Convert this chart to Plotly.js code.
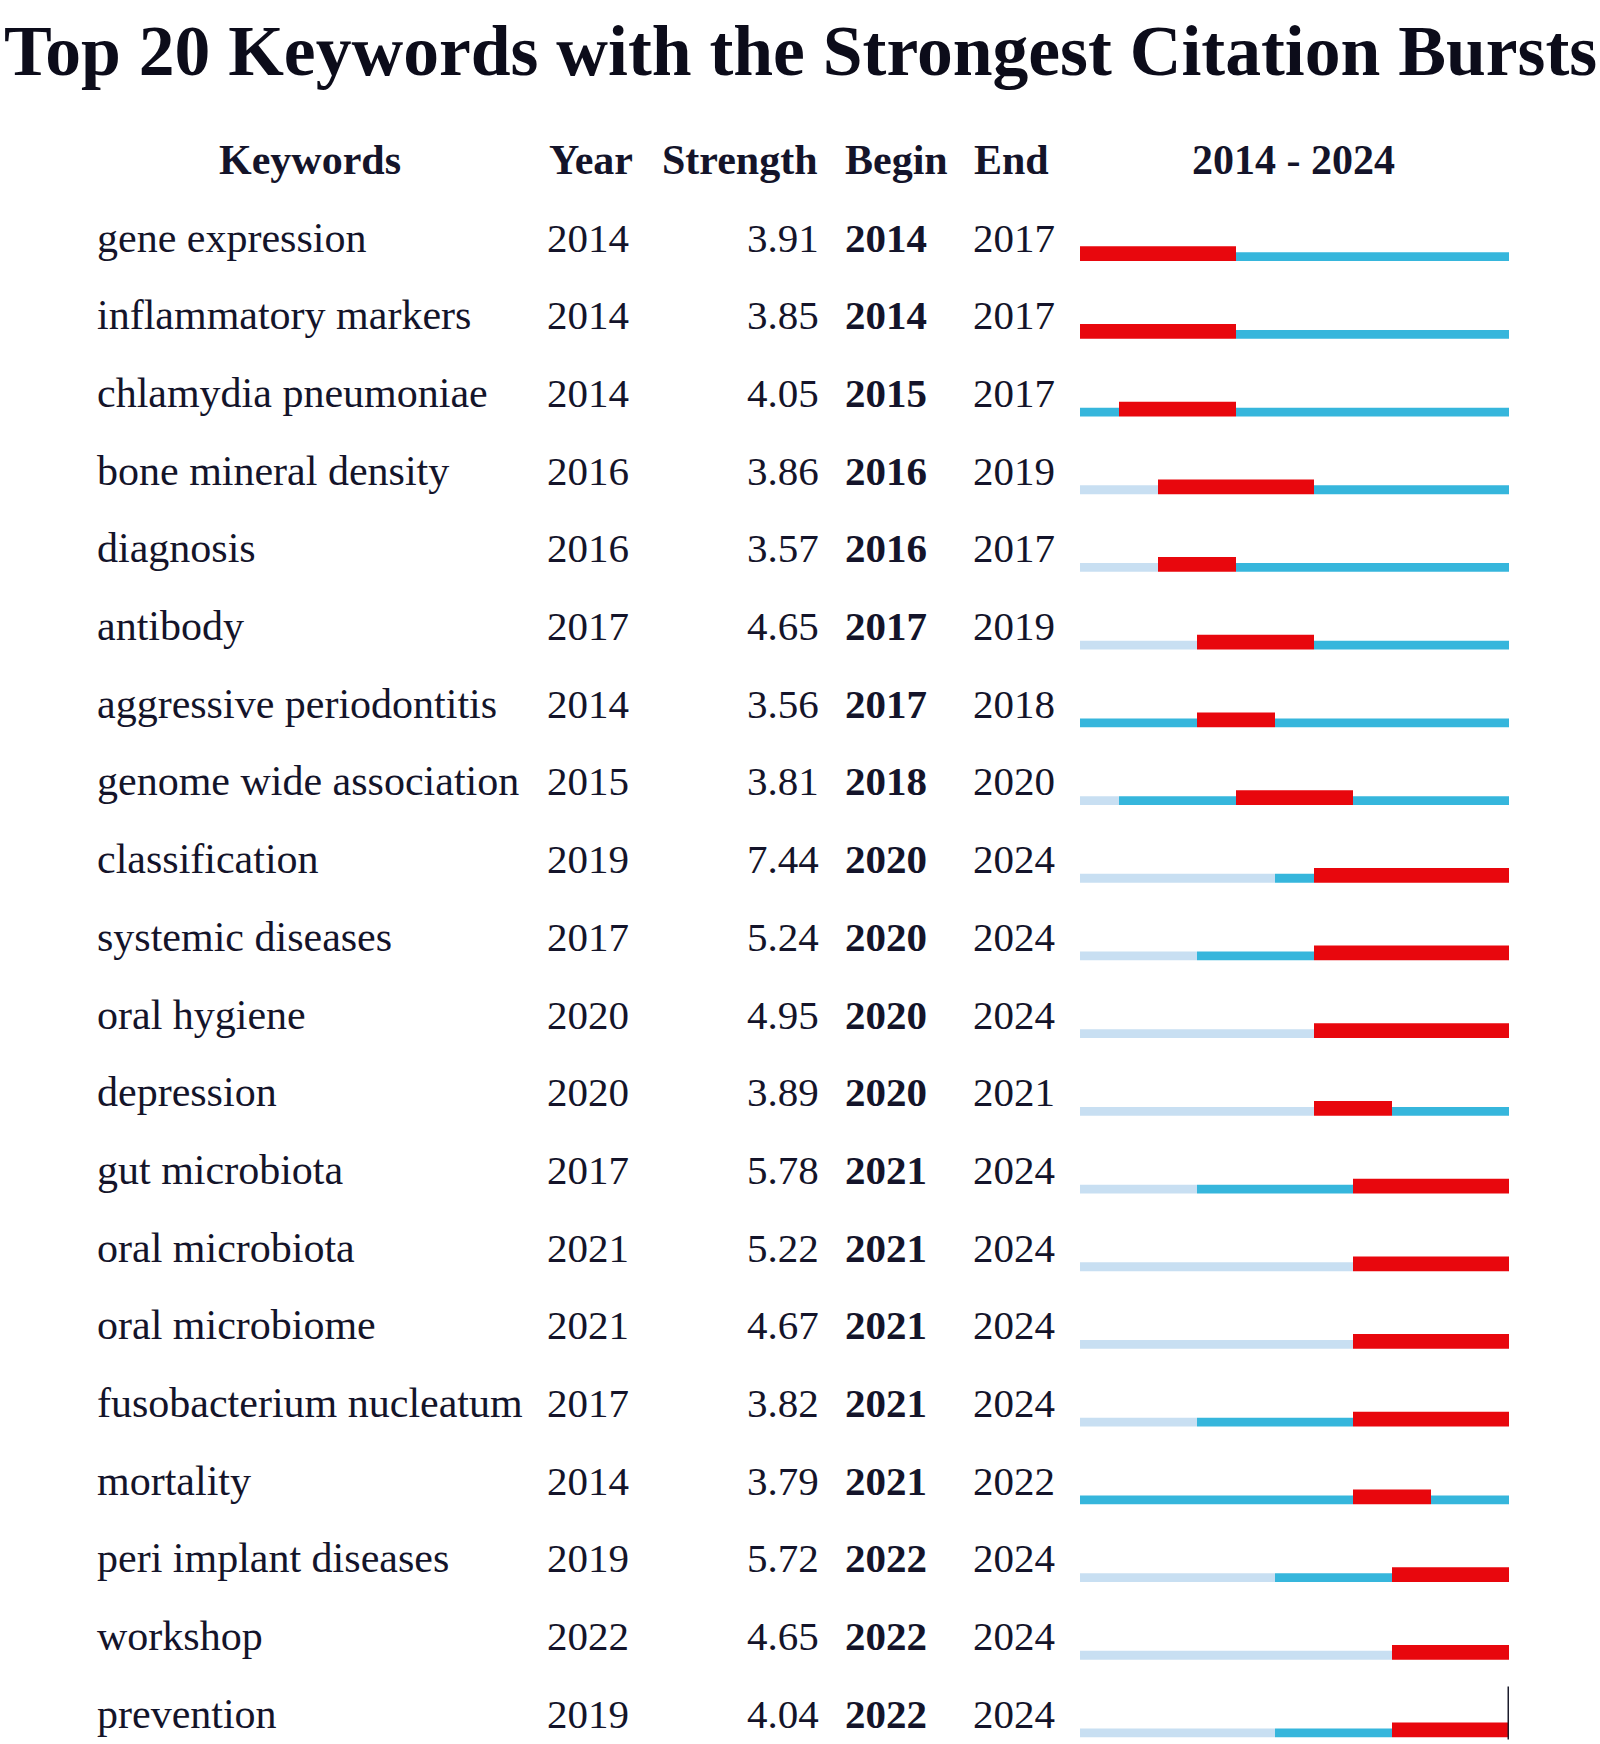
<!DOCTYPE html>
<html>
<head>
<meta charset="utf-8">
<script src="https://cdn.plot.ly/plotly-3.0.1.min.js"></script>
<style>html,body{margin:0;padding:0;background:#fff;}#chart{width:1600px;height:1744px;}</style>
</head>
<body>
<div id="chart"></div>
<script>
// ---- data ----
const keywords = ["gene expression","inflammatory markers","chlamydia pneumoniae","bone mineral density","diagnosis","antibody","aggressive periodontitis","genome wide association","classification","systemic diseases","oral hygiene","depression","gut microbiota","oral microbiota","oral microbiome","fusobacterium nucleatum","mortality","peri implant diseases","workshop","prevention"];
const years    = [2014,2014,2014,2016,2016,2017,2014,2015,2019,2017,2020,2020,2017,2021,2021,2017,2014,2019,2022,2019];
const strength = [3.91,3.85,4.05,3.86,3.57,4.65,3.56,3.81,7.44,5.24,4.95,3.89,5.78,5.22,4.67,3.82,3.79,5.72,4.65,4.04];
const begins   = [2014,2014,2015,2016,2016,2017,2017,2018,2020,2020,2020,2020,2021,2021,2021,2021,2021,2022,2022,2022];
const ends     = [2017,2017,2017,2019,2017,2019,2018,2020,2024,2024,2024,2021,2024,2024,2024,2024,2022,2024,2024,2024];
const startYear = 2014, endYear = 2024;
const headers = ["Keywords","Year","Strength","Begin","End", startYear + " - " + endYear];
const titleText = "Top 20 Keywords with the Strongest Citation Bursts";

// ---- layout constants ----
const W = 1600, H = 1744;
const row0 = 237.5, rowH = 77.7;
const n = keywords.length;
const idx = keywords.map((_, i) => i);
const yTop = -row0 / rowH;
const yBot = (H - row0) / rowH;
const serif = "Liberation Serif, Times New Roman, serif";
const ink = "#14142a";

const cLight = "#c8dff2", cBlue = "#36b6dc", cRed = "#e8070d";
const thinOff = 0.19, thinW = 0.113;
const thickOff = 0.113, thickW = 0.19;

function seg(base, len, color, off, w, name) {
  return {type: "bar", orientation: "h", y: idx, base: base, x: len,
    width: idx.map(() => w), offset: idx.map(() => off),
    marker: {color: color, line: {width: 0}}, name: name, hoverinfo: "skip",
    xaxis: "x", yaxis: "y", showlegend: false};
}
const traces = [
  seg(idx.map(() => startYear), years.map(y => y - startYear), cLight, thinOff, thinW, "before"),
  seg(years, years.map((y, i) => begins[i] - y), cBlue, thinOff, thinW, "present"),
  seg(ends.map(e => e + 1), ends.map(e => endYear + 1 - (e + 1)), cBlue, thinOff, thinW, "after"),
  seg(begins, begins.map((b, i) => ends[i] + 1 - b), cRed, thickOff, thickW, "burst")
];

const ann = [];
ann.push({text: "<b>" + titleText + "</b>", xref: "paper", yref: "paper", x: 800 / W, y: 1 - 50 / H,
  xanchor: "center", yanchor: "middle", showarrow: false, font: {family: serif, size: 71.6, color: "#0c0c1a"}});
const headX = [310, 591, 740, 896, 1012, 1293];
headers.forEach((h, k) => ann.push({text: "<b>" + h + "</b>", xref: "paper", yref: "paper",
  x: headX[k] / W, y: 1 - 160 / H, xanchor: "center", yanchor: "middle", showarrow: false,
  font: {family: serif, size: 42, color: ink}}));
for (let i = 0; i < n; i++) {
  const base = {xref: "paper", yref: "y", y: i, yanchor: "middle", showarrow: false};
  ann.push(Object.assign({}, base, {text: keywords[i], x: 95 / W, xanchor: "left", font: {family: serif, size: 42, color: ink}}));
  ann.push(Object.assign({}, base, {text: String(years[i]), x: 588 / W, xanchor: "center", font: {family: serif, size: 41, color: ink}}));
  ann.push(Object.assign({}, base, {text: strength[i].toFixed(2), x: 821 / W, xanchor: "right", font: {family: serif, size: 41, color: ink}}));
  ann.push(Object.assign({}, base, {text: "<b>" + begins[i] + "</b>", x: 886 / W, xanchor: "center", font: {family: serif, size: 41, color: ink}}));
  ann.push(Object.assign({}, base, {text: String(ends[i]), x: 1014 / W, xanchor: "center", font: {family: serif, size: 41, color: ink}}));
}

const layout = {
  width: W, height: H, margin: {l: 0, r: 0, t: 0, b: 0},
  paper_bgcolor: "#ffffff", plot_bgcolor: "rgba(0,0,0,0)",
  barmode: "overlay", showlegend: false,
  xaxis: {domain: [1080 / W, 1509 / W], range: [startYear, endYear + 1], visible: false, fixedrange: true},
  yaxis: {range: [yBot, yTop], visible: false, fixedrange: true},
  annotations: ann,
  shapes: [{type: "line", xref: "x", yref: "y", x0: endYear + 1, x1: endYear + 1,
    y0: n - 1 - 0.35, y1: n - 1 + 0.33, line: {color: "#1c1c2c", width: 3}}]
};
Plotly.newPlot("chart", traces, layout, {displayModeBar: false, staticPlot: true});
</script>
</body>
</html>
